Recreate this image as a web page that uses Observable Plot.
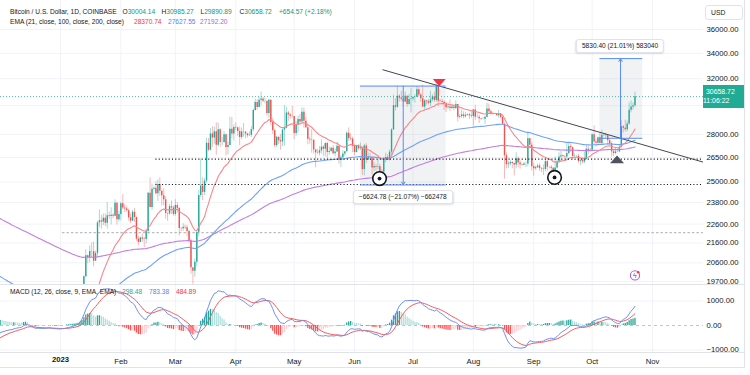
<!DOCTYPE html>
<html>
<head>
<meta charset="utf-8">
<script src="https://cdn.jsdelivr.net/npm/d3@7"></script>
<script src="https://cdn.jsdelivr.net/npm/@observablehq/plot@0.6"></script>
<style>
  html, body { margin: 0; padding: 0; background: #ffffff; }
  #wrap { position: relative; width: 750px; height: 375px; overflow: hidden; background: #fff;
          font-family: "Liberation Sans", Arial, sans-serif; color: #131722; }
  #wrap > svg { position: absolute; left: 0; }
  .t { position: absolute; white-space: nowrap; font-size: 6.6px; line-height: 8px; }
  .hl { position: absolute; background: #e0e3eb; }
  .pill { position: absolute; background: #fff; border: 1px solid #e0e3eb; border-radius: 3px;
          box-shadow: 0 1px 2px rgba(0,0,0,.12); font-size: 6.6px; line-height: 12px; height: 12px;
          padding: 0 5px; white-space: nowrap; transform: translate(-50%, -50%); color: #131722; }
</style>
</head>
<body>
<div id="wrap"></div>
<script>
// ---------------- DATA (BTC/USD daily, Coinbase, in thousands of USD) ----------------
// first candle: 2022-12-01 ; one value per day ; open of each day = previous close (24/7 market)
const firstDay = [2022, 11, 1];
const firstOpen = 17.17;
const close = [
  // Dec 2022
  16.97,17.09,16.89,17.11,16.97,17.09,16.84,17.23,17.13,17.13,17.10,17.21,17.78,17.81,17.36,16.63,16.78,16.74,16.44,16.90,16.82,16.83,16.78,16.84,16.83,16.92,16.71,16.55,16.63,16.60,16.54,
  // Jan 2023
  16.62,16.68,16.67,16.85,16.83,16.95,16.94,17.12,17.18,17.44,17.94,18.85,19.93,20.95,20.87,21.17,21.16,20.68,21.07,22.67,22.78,22.71,22.92,22.64,23.06,23.01,23.08,23.03,23.76,22.84,23.13,
  // Feb
  23.73,23.49,23.43,23.33,22.94,22.76,23.25,22.96,21.80,21.63,21.86,21.79,21.78,22.20,24.33,23.52,24.56,24.63,24.30,24.84,24.45,24.19,23.95,23.19,23.16,23.56,23.49,23.13,
  // Mar
  23.63,23.47,22.36,22.35,22.43,22.41,22.20,21.70,20.36,20.19,20.63,22.16,24.20,24.75,24.38,25.05,27.42,26.97,28.04,27.77,28.18,27.30,28.33,27.48,27.48,27.99,27.14,27.27,28.35,28.03,28.48,
  // Apr
  28.45,28.20,27.80,28.18,28.17,28.04,27.92,27.95,28.33,29.65,30.23,29.88,30.39,30.49,30.32,30.32,29.44,30.39,28.82,28.25,27.27,27.82,27.59,27.51,28.30,28.42,29.48,29.34,29.25,29.23,
  // May
  28.07,28.67,29.03,28.85,29.53,28.90,28.46,27.69,27.63,27.62,26.99,26.80,26.78,26.93,27.17,27.03,27.40,26.83,26.89,27.10,26.75,26.85,27.22,26.33,26.48,26.72,26.87,28.08,27.74,27.70,27.21,
  // Jun
  26.82,27.25,27.07,27.12,25.75,27.24,26.35,26.50,26.48,25.85,25.94,25.90,25.92,25.12,25.58,26.34,26.51,26.34,26.85,28.31,30.00,29.89,30.69,30.55,30.47,30.27,30.69,30.08,30.45,30.48,
  // Jul
  30.59,30.62,31.16,30.77,30.51,29.90,30.35,30.29,30.17,30.42,30.63,30.39,31.47,30.33,30.30,30.25,30.14,29.86,29.91,29.80,29.91,29.80,30.08,29.18,29.23,29.35,29.22,29.32,29.36,29.28,29.23,
  // Aug
  29.70,29.18,29.18,29.08,29.05,29.04,29.18,29.77,29.57,29.43,29.40,29.42,29.29,29.41,29.17,28.70,26.62,26.05,26.10,26.19,26.12,26.04,26.43,26.16,26.05,26.01,26.09,26.10,27.72,27.30,25.93,
  // Sep
  25.80,25.87,25.97,25.82,25.78,25.75,26.24,25.90,25.90,25.83,25.16,25.84,26.22,26.53,26.61,26.57,26.53,26.76,27.21,27.13,26.57,26.58,26.58,26.25,26.30,26.22,26.37,27.03,26.91,26.97,
  // Oct
  27.99,27.50,27.43,27.79,27.41,27.93,27.95,27.92,27.59,27.39,26.87,26.76,26.86,26.86,27.16,28.52,28.42,28.33,28.72,29.68,29.91,30.00414,30.65872
];
const high = [
  17.32,17.10,17.16,17.20,17.42,17.11,17.14,17.30,17.36,17.23,17.27,17.24,18.00,18.39,17.85,17.53,16.80,16.86,16.82,17.06,16.90,16.87,16.96,16.86,16.86,16.94,16.96,16.78,16.65,16.64,16.63,
  16.63,16.76,16.77,16.98,16.88,16.99,16.96,17.18,17.39,17.49,17.99,19.10,19.97,21.26,20.99,21.46,21.60,21.65,21.18,22.75,23.37,23.08,23.16,23.16,23.80,23.26,23.50,23.17,23.95,23.82,23.30,
  23.81,24.25,23.69,23.58,23.43,23.16,23.36,23.45,22.99,21.94,21.91,22.07,21.89,22.32,24.37,25.25,24.87,24.70,25.02,25.12,25.25,24.48,24.60,24.13,23.21,23.69,23.88,23.60,
  23.96,23.78,23.48,22.41,22.62,22.55,22.53,22.27,21.81,20.31,20.79,22.18,24.50,26.39,25.25,25.20,27.75,27.73,28.40,28.53,28.50,28.80,28.77,28.40,27.80,28.20,28.01,27.50,29.18,29.17,28.66,
  28.80,28.53,28.50,28.44,28.75,28.18,28.10,28.17,28.53,29.77,30.48,30.42,30.60,31.00,30.59,30.55,30.32,30.47,30.41,29.10,28.37,27.88,27.82,28.00,28.40,30.02,29.89,29.60,29.45,29.95,
  29.26,28.88,29.26,29.37,29.85,29.82,29.18,28.65,27.83,28.33,27.63,26.99,27.03,27.20,27.65,27.27,27.47,27.49,27.17,27.15,27.27,27.05,27.48,27.21,26.63,26.93,26.89,28.19,28.45,28.04,27.83,
  27.35,27.30,27.33,27.44,27.17,27.35,27.39,26.80,26.77,26.53,26.20,26.07,26.41,26.08,25.74,26.47,26.78,26.69,26.98,28.40,30.77,30.50,31.43,30.80,31.05,30.65,31.00,30.70,30.82,31.28,
  30.66,30.79,31.40,31.33,30.88,31.50,30.44,30.39,30.44,31.05,30.80,30.98,31.82,31.64,30.40,30.45,30.34,30.24,30.19,30.41,30.05,29.99,30.35,30.10,29.36,29.69,29.57,29.53,29.42,29.45,29.52,
  29.74,30.04,29.42,29.32,29.11,29.17,29.25,30.19,30.13,29.70,29.54,29.47,29.45,29.67,29.45,29.24,28.78,26.80,26.26,26.30,26.26,26.14,26.81,26.55,26.29,26.08,26.17,26.22,28.14,27.76,27.49,
  26.12,25.97,26.08,26.10,25.87,26.04,26.43,26.43,25.94,26.00,25.88,26.55,26.39,26.80,26.89,26.67,26.62,27.41,27.49,27.38,27.16,26.73,26.64,26.72,26.43,26.39,26.83,27.30,27.23,27.09,
  28.06,28.58,27.67,27.83,28.13,28.29,28.03,28.10,27.99,27.73,27.48,26.94,27.11,26.98,27.29,28.95,28.62,28.99,28.92,30.20,30.35,30.20,30.98527
];
const low = [
  16.86,16.79,16.86,16.88,16.87,16.90,16.68,16.74,17.06,17.09,17.07,16.87,17.09,17.66,17.28,16.53,16.58,16.69,16.26,16.40,16.73,16.56,16.76,16.79,16.73,16.79,16.59,16.47,16.51,16.33,16.49,
  16.50,16.55,16.61,16.66,16.75,16.68,16.90,16.91,17.10,17.14,17.32,17.90,18.70,19.89,20.55,20.61,20.85,20.40,20.67,20.88,22.42,22.33,22.52,22.47,22.33,22.86,22.56,22.89,23.00,22.55,22.73,
  22.77,23.38,23.22,23.26,22.76,22.63,22.75,22.69,21.69,21.47,21.62,21.64,21.36,21.55,22.06,23.50,23.35,24.47,24.22,23.87,24.15,23.60,23.62,22.87,22.75,23.08,23.12,23.03,
  23.03,23.20,21.97,22.19,22.22,22.30,21.95,21.60,20.05,19.57,19.90,20.40,21.92,24.09,23.91,24.20,24.93,26.87,26.92,27.16,27.35,26.65,27.18,27.15,27.25,27.42,26.60,26.67,27.25,27.72,27.57,
  28.25,27.87,27.26,27.66,27.83,27.73,27.78,27.88,27.80,28.18,29.61,29.66,29.87,29.97,30.24,30.13,29.27,29.11,28.61,28.01,27.13,27.14,27.34,26.97,27.21,27.23,28.38,28.90,29.05,29.10,
  27.66,27.88,28.12,28.68,28.84,28.40,28.40,27.32,27.36,26.78,26.74,25.85,26.70,26.60,26.73,26.57,26.55,26.43,26.65,26.84,26.68,26.54,26.81,26.08,25.87,26.35,26.56,26.85,27.55,27.57,26.82,
  26.61,26.80,26.95,26.96,25.39,25.36,26.12,26.31,26.36,25.40,25.62,25.66,25.73,24.82,24.76,25.16,26.17,26.31,26.28,26.65,28.28,29.63,29.81,30.27,30.32,29.94,30.22,29.89,30.04,29.50,
  30.33,30.19,30.60,30.64,30.23,29.86,29.71,30.05,30.07,29.95,30.28,30.22,30.25,29.94,30.26,30.07,29.66,29.52,29.76,29.59,29.72,29.63,29.73,28.86,29.05,29.10,29.07,29.12,29.26,29.03,29.12,
  28.58,28.96,29.10,28.75,28.97,28.98,28.70,29.15,29.38,29.34,29.33,29.37,29.26,29.12,29.06,28.69,25.17,25.80,25.81,25.97,25.80,25.35,25.79,25.86,25.78,25.98,25.96,25.87,25.92,27.05,25.66,
  25.35,25.71,25.81,25.63,25.57,25.38,25.61,25.65,25.80,25.57,24.90,25.13,25.77,26.13,26.23,26.48,26.40,26.39,26.67,26.83,26.36,26.50,26.52,26.14,25.99,26.09,26.11,26.34,26.67,26.88,
  26.95,27.33,27.17,27.23,27.37,27.27,27.86,27.73,27.30,27.30,26.55,26.56,26.69,26.81,26.81,27.11,28.10,28.16,28.17,28.63,29.49,29.68,29.89089
];

// indicator settings and starting (pre-window) values
const emaPeriods = [21, 100, 200];
const emaSeeds = [16900, 20000, 22960];
const macdPeriods = [12, 26, 9];
const macdSeeds = [16900, 17230, -560];

// axis ticks
const priceTicks = [19700, 20600, 21600, 22600, 23800, 25000, 26500, 28000, 30000, 32000, 34000, 36000];
const macdTicks = [-1000, 0, 1000];
const monthTicks = d3.utcMonths(new Date(Date.UTC(2023, 0, 1)), new Date(Date.UTC(2023, 10, 2)));

// drawings
const lastPrice = 30658.72;
const dottedLevels = [26400, 24850];
const dashedLevels = [22140];
const trendLine = [{x1: "2023-06-15T09:00Z", y1: 32700, x2: "2023-11-27T06:00Z", y2: 26205}];
const priceRanges = [
  {x1: "2023-06-04", x2: "2023-07-18", lo: 24817.5, hi: 31442.28, arrowX: "2023-06-26", dir: -1, label: "−6624.78 (−21.07%) −662478"},
  {x1: "2023-10-05", x2: "2023-10-27", lo: 27750.0, hi: 33580.40, arrowX: "2023-10-15T14:00Z", dir: 1, label: "5830.40 (21.01%) 583040"}
];
const pivots = [{date: "2023-06-13T20:00Z", price: 25200}, {date: "2023-09-11T17:00Z", price: 25270}];
const sellSignals = [{date: "2023-07-14T12:00Z", price: 31700}];
const buySignals = [{date: "2023-10-13T19:00Z", price: 26380}];
const alertIcon = [{date: "2023-10-23", price: 19990}];

// legend text
const legend1 = {title: "Bitcoin / U.S. Dollar, 1D, COINBASE", o: "30004.14", h: "30985.27", l: "29890.89", c: "30658.72", chg: "+654.57 (+2.18%)"};
const legend2 = {title: "EMA (21, close, 100, close, 200, close)", vals: ["28370.74", "27627.55", "27192.20"]};
const legend3 = {title: "MACD (12, 26, close, 9, EMA, EMA)", vals: ["298.48", "783.38", "484.89"]};

// ---------------- BUILD ----------------
if (close.length !== high.length || close.length !== low.length) throw new Error("length mismatch");
const UP = "#26a69a", DOWN = "#ef5350";
const candles = close.map((c, i) => ({
  date: new Date(Date.UTC(firstDay[0], firstDay[1], firstDay[2] + i)),
  open: (i === 0 ? firstOpen : close[i - 1]) * 1000,
  high: high[i] * 1000,
  low: low[i] * 1000,
  close: c * 1000
}));
candles.forEach(d => { d.color = d.close >= d.open ? UP : DOWN; });

function ema(values, period, seed) {
  const k = 2 / (period + 1);
  let e = seed;
  return values.map(v => (e += k * (v - e)));
}
const closes = candles.map(d => d.close);
const [e21, e100, e200] = emaPeriods.map((p, i) => ema(closes, p, emaSeeds[i]));
candles.forEach((d, i) => { d.ema21 = e21[i]; d.ema100 = e100[i]; d.ema200 = e200[i]; });
const fast = ema(closes, macdPeriods[0], macdSeeds[0]);
const slow = ema(closes, macdPeriods[1], macdSeeds[1]);
const macd = fast.map((v, i) => v - slow[i]);
const signal = ema(macd, macdPeriods[2], macdSeeds[2]);
const macdRows = candles.map((d, i) => ({date: d.date, macd: macd[i], signal: signal[i], hist: macd[i] - signal[i]}));
macdRows.forEach((d, i) => {
  const prev = i ? macdRows[i - 1].hist : d.hist;
  d.hcolor = d.hist >= 0 ? (d.hist >= prev ? "#26a69a" : "#b2dfdb") : (d.hist <= prev ? "#ff5252" : "#ffcdd2");
});

const dt = s => new Date(s);
const X = {type: "utc", domain: [new Date(Date.UTC(2023, 0, 1)), new Date(Date.UTC(2023, 10, 1))], range: [60, 652]};
const plotStyle = {background: "transparent", overflow: "visible", color: "#131722", fontFamily: "'Liberation Sans', Arial, sans-serif"};
const GRID = "#f0f3fa";
const RANGE_BLUE = "#5b8cf6";
const chartEnd = dt("2023-11-28T00:00Z");

// custom flat triangles (up / down)
const triDown = {draw(ctx, size) { const r = Math.sqrt(size / Math.PI); ctx.moveTo(-r, -0.55 * r); ctx.lineTo(r, -0.55 * r); ctx.lineTo(0, 0.55 * r); ctx.closePath(); }};
const triUp = {draw(ctx, size) { const r = Math.sqrt(size / Math.PI); ctx.moveTo(-r, 0.55 * r); ctx.lineTo(r, 0.55 * r); ctx.lineTo(0, -0.55 * r); ctx.closePath(); }};

const main = Plot.plot({
  width: 750, height: 284,
  marginLeft: 0, marginRight: 47, marginTop: 0, marginBottom: 0,
  style: plotStyle,
  x: {...X, axis: null},
  y: {type: "log", domain: [19700, 36000], range: [281, 29], axis: null},
  color: {type: "identity"},
  marks: [
    Plot.gridY(priceTicks, {stroke: GRID, strokeOpacity: 1}),
    Plot.gridX(monthTicks, {stroke: GRID, strokeOpacity: 1}),
    Plot.rect(priceRanges, {x1: d => dt(d.x1), x2: d => dt(d.x2), y1: "lo", y2: "hi", fill: "#9598a1", fillOpacity: 0.13}),
    Plot.ruleX(candles, {x: "date", y1: "low", y2: "high", stroke: "color", strokeWidth: 0.7, strokeOpacity: 0.6, clip: true}),
    Plot.ruleX(candles, {x: "date", y1: "open", y2: "close", stroke: "color", strokeWidth: 1.4, clip: true}),
    Plot.line(candles, {x: "date", y: "ema200", stroke: "#c27ee0", strokeWidth: 1.1, clip: true}),
    Plot.line(candles, {x: "date", y: "ema100", stroke: "#6fa0f8", strokeWidth: 1.1, clip: true}),
    Plot.line(candles, {x: "date", y: "ema21", stroke: "#f7868a", strokeWidth: 1.1, clip: true}),
    Plot.ruleY(dashedLevels, {x1: dt("2023-01-02"), x2: chartEnd, stroke: "#9598a1", strokeWidth: 0.8, strokeDasharray: "2.5,2", clip: true}),
    Plot.ruleY(dottedLevels, {x1: dt("2023-02-19"), x2: chartEnd, stroke: "#131722", strokeWidth: 1.1, strokeDasharray: "1.1,2.2", clip: true}),
    Plot.ruleY([lastPrice], {stroke: "#26a69a", strokeWidth: 0.8, strokeDasharray: "1,2"}),
    Plot.link(trendLine, {x1: d => dt(d.x1), y1: "y1", x2: d => dt(d.x2), y2: "y2", stroke: "#434651", strokeWidth: 1, clip: true}),
    Plot.ruleY(priceRanges, {y: "lo", x1: d => dt(d.x1), x2: d => dt(d.x2), stroke: RANGE_BLUE, strokeWidth: 1}),
    Plot.ruleY(priceRanges, {y: "hi", x1: d => dt(d.x1), x2: d => dt(d.x2), stroke: RANGE_BLUE, strokeWidth: 1}),
    Plot.arrow(priceRanges, {x1: d => dt(d.arrowX), x2: d => dt(d.arrowX), y1: d => d.dir < 0 ? d.hi : d.lo, y2: d => d.dir < 0 ? d.lo : d.hi, stroke: RANGE_BLUE, strokeWidth: 1, headLength: 5}),
    Plot.dot(sellSignals, {x: d => dt(d.date), y: "price", symbol: triDown, r: 6.5, fill: "#f23645", stroke: "none"}),
    Plot.dot(buySignals, {x: d => dt(d.date), y: "price", symbol: triUp, r: 7, fill: "#50535e", stroke: "none"}),
    Plot.dot(pivots, {x: d => dt(d.date), y: "price", r: 6.8, stroke: "#131722", strokeWidth: 1.6, fill: "#ffffff"}),
    Plot.dot(pivots, {x: d => dt(d.date), y: "price", r: 1.9, fill: "#131722", stroke: "none"}),
    Plot.dot(alertIcon, {x: d => dt(d.date), y: "price", r: 4.6, stroke: "#b15fd8", strokeWidth: 1.1, fill: "#ffffff"}),
    Plot.text(alertIcon, {x: d => dt(d.date), y: "price", text: () => "ϟ", fill: "#b15fd8", fontSize: 7, fontWeight: "bold"}),
    Plot.dot(alertIcon, {x: d => dt(d.date), y: "price", dx: 3.2, dy: -3.2, r: 1.3, fill: "#f23645", stroke: "none"}),
    Plot.axisY({ticks: priceTicks.filter(v => v !== lastPrice && v !== 30000), anchor: "right", tickSize: 0, tickPadding: 3,
      tickFormat: d => d.toFixed(2), fontSize: 7.7, label: null})
  ]
});

const macdPlot = Plot.plot({
  width: 750, height: 91,
  marginLeft: 0, marginRight: 47, marginTop: 0, marginBottom: 23,
  style: plotStyle,
  x: {...X, axis: null},
  y: {domain: [-1000, 1000], range: [65.5, 16.5], axis: null},
  color: {type: "identity"},
  marks: [
    Plot.gridX(monthTicks, {stroke: GRID, strokeOpacity: 1}),
    Plot.gridY([-1000, 1000], {stroke: GRID, strokeOpacity: 1}),
    Plot.ruleY([0], {stroke: "#b2b5be", strokeWidth: 0.8, strokeDasharray: "3,3"}),
    Plot.ruleX(macdRows, {x: "date", y1: 0, y2: "hist", stroke: "hcolor", strokeWidth: 1.3, clip: true}),
    Plot.line(macdRows, {x: "date", y: "signal", stroke: "#f45b5b", strokeWidth: 1, clip: true}),
    Plot.line(macdRows, {x: "date", y: "macd", stroke: "#6e8ff5", strokeWidth: 1, clip: true}),
    Plot.axisY({ticks: macdTicks, anchor: "right", tickSize: 0, tickPadding: 3,
      tickFormat: d => (d < 0 ? "−" : "") + Math.abs(d).toFixed(2), fontSize: 7.7, label: null}),
    Plot.axisX({ticks: monthTicks.slice(1), anchor: "bottom", tickSize: 0, tickPadding: 6,
      tickFormat: d3.utcFormat("%b"), fontSize: 7.7, label: null}),
    Plot.text(monthTicks.slice(0, 1), {x: d => d, frameAnchor: "bottom", dy: 9, text: d => d3.utcFormat("%Y")(d),
      fontWeight: "bold", fontSize: 7.7, fill: "#131722"})
  ]
});

const wrap = document.getElementById("wrap");
main.style.top = "0px";
macdPlot.style.top = "284px";
wrap.appendChild(main);
wrap.appendChild(macdPlot);

function el(cls, css, html) {
  const e = document.createElement("div");
  e.className = cls;
  Object.assign(e.style, css);
  if (html != null) e.innerHTML = html;
  wrap.appendChild(e);
  return e;
}
// pane separators
el("hl", {left: "0px", top: "284px", width: "744px", height: "1px"});
el("hl", {left: "0px", top: "352px", width: "744px", height: "1px"});
el("hl", {left: "0px", top: "367px", width: "744px", height: "1px"});
el("hl", {left: "744px", top: "0px", width: "1px", height: "368px"});

// legends
const G = "#089981";
el("t", {left: "10px", top: "7.5px"}, legend1.title);
[["O", legend1.o, 122.5], ["H", legend1.h, 161.5], ["L", legend1.l, 200.5], ["C", legend1.c, 239.5]].forEach(([k, v, x]) =>
  el("t", {left: x + "px", top: "7.5px"}, `${k}<span style="color:${G}">${v}</span>`));
el("t", {left: "279px", top: "7.5px", color: G}, legend1.chg);
el("t", {left: "10px", top: "18px"}, legend2.title);
[["#f23645", 134], ["#4f86f7", 168], ["#b15fd8", 200]].forEach(([c, x], i) =>
  el("t", {left: x + "px", top: "18px", color: c}, legend2.vals[i]));
el("t", {left: "10px", top: "288px"}, legend3.title);
[["#26a69a", 122], ["#4f86f7", 149], ["#f23645", 176]].forEach(([c, x], i) =>
  el("t", {left: x + "px", top: "288px", color: c}, legend3.vals[i]));

// USD box
el("t", {left: "705px", top: "5px", width: "36px", height: "13px", border: "1px solid #e0e3eb", borderRadius: "3px",
  lineHeight: "13px", paddingLeft: "0px", textAlign: "left", textIndent: "5px", fontSize: "6.8px", background: "#fff"}, "USD");

// price badge and range labels via the chart scales
const sx = main.scale("x"), sy = main.scale("y");
const py = sy.apply(lastPrice);
el("t", {left: "703px", top: (py - 11.5) + "px", width: "41px", height: "23px", background: "#22ab94", color: "#fff",
  fontSize: "6.9px", lineHeight: "9.5px", paddingTop: "2px", boxSizing: "border-box", textIndent: "3px"},
  lastPrice.toFixed(2) + "<br>11:06:22");
priceRanges.forEach(r => {
  const cx = sx.apply(dt(r.arrowX));
  const cy = r.dir < 0 ? sy.apply(r.lo) + 13 : sy.apply(r.hi) - 12;
  el("pill", {left: cx + "px", top: cy + "px"}, r.label);
});
</script>
</body>
</html>
